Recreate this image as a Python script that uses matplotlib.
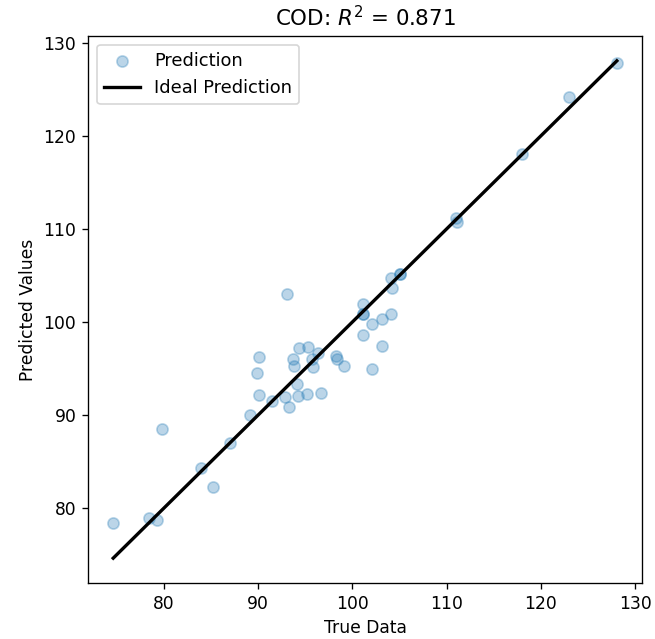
import matplotlib
matplotlib.use("Agg")
import matplotlib.pyplot as plt
import numpy as np

# values
true_data = [74.6, 78.4, 79.3, 79.8, 83.9, 85.2, 87.0, 89.1, 90.1, 89.9,
             90.1, 91.45, 92.8, 93.3, 93.1, 94.1, 94.2, 93.65, 93.8, 94.35,
             95.3, 95.2, 96.3, 95.7, 95.8, 96.65, 98.2, 98.4, 99.1, 101.07,
             101.07, 101.1, 102.1, 103.1, 104.07, 101.07, 103.1, 102.1, 104.04, 105.05,
             105.1, 104.2, 111.0, 111.1, 118.0, 123.0, 128.07]
predicted = [78.35, 78.96, 78.7, 88.5, 84.3, 82.3, 86.95, 90.0, 92.1, 94.5,
             96.2, 91.5, 91.9, 90.8, 103.0, 93.3, 92.0, 96.0, 95.3, 97.2,
             97.3, 92.3, 96.7, 96.0, 95.1, 92.4, 96.3, 96.0, 95.3, 101.9,
             100.9, 100.8, 99.75, 100.3, 100.9, 98.6, 97.4, 94.9, 104.7, 105.1,
             105.2, 103.65, 111.15, 110.7, 118.06, 124.2, 127.8]
r2_text = "0.871"

dpi = 120
fig = plt.figure(figsize=(655 / dpi, 639 / dpi), dpi=dpi)
ax = fig.add_axes([0.1344, 0.0876, 0.8458, 0.8561])

ax.scatter(true_data, predicted, s=45, alpha=0.3, label="Prediction")
lims = [min(true_data), max(true_data)]
ax.plot(lims, lims, color="black", linewidth=2, label="Ideal Prediction")

ax.set_xlabel("True Data", fontsize=10.3)
ax.set_ylabel("Predicted Values", fontsize=10.3)
ax.set_title("COD: $R^2$ = " + r2_text, fontsize=12.8)
ax.set_xticks([80, 90, 100, 110, 120, 130])
ax.set_yticks([80, 90, 100, 110, 120, 130])
ax.tick_params(labelsize=10.3)
ax.legend(loc="upper left", fontsize=10.7)

fig.savefig("out.png", dpi=dpi)
